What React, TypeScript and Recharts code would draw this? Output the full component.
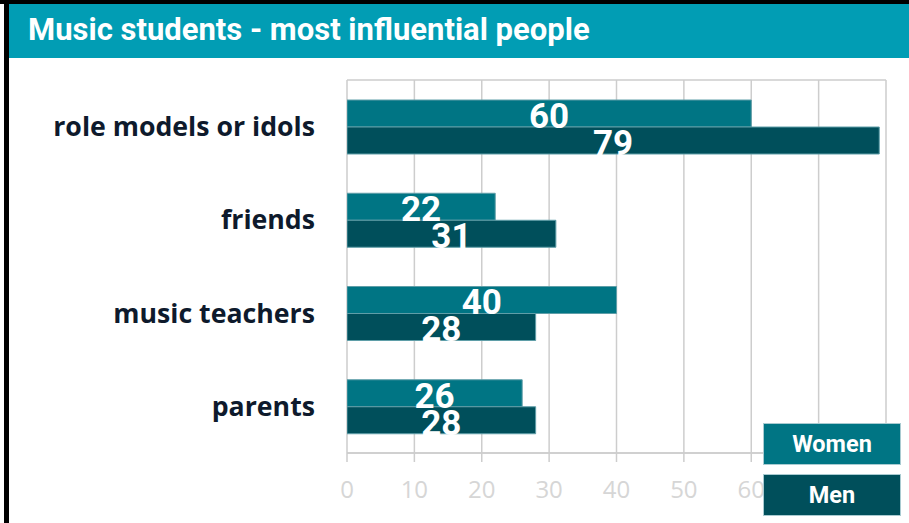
import React from 'react';
import {
  BarChart,
  Bar,
  XAxis,
  YAxis,
  CartesianGrid,
  LabelList,
  Legend,
} from 'recharts';

const categories = ['role models or idols', 'friends', 'music teachers', 'parents'];
const seriesNames = ['Women', 'Men'];
const womenValues = [60, 22, 40, 26];
const menValues = [79, 31, 28, 28];
const xTicks = [0, 10, 20, 30, 40, 50, 60, 70, 80];
const bandEdges = [0, 1, 2, 3, 4];
const titleText = 'Music students - most influential people';

const data = categories.map((c, i) => ({ category: c, Women: womenValues[i], Men: menValues[i] }));

const WOMEN_COLOR = '#007584';
const MEN_COLOR = '#004f5b';
const GRID = '#cdcdcd';

const renderLegend = (props: any) => {
  const payload = [...(props.payload || [])].sort(
    (a: any, b: any) => seriesNames.indexOf(a.value) - seriesNames.indexOf(b.value)
  );
  return (
    <div style={{ display: 'flex', flexDirection: 'column', gap: 9 }}>
      {payload.map((entry: any) => (
        <div
          key={entry.value}
          style={{
            width: 138,
            height: 42,
            boxSizing: 'border-box',
            background: entry.color,
            border: '1px solid #a9cbd1',
            color: '#ffffff',
            fontFamily: 'Roboto, sans-serif',
            fontWeight: 700,
            fontSize: 23.5,
            display: 'flex',
            alignItems: 'center',
            justifyContent: 'center',
          }}
        >
          {entry.value}
        </div>
      ))}
    </div>
  );
};

export default function App() {
  return (
    <div
      style={{
        position: 'absolute',
        left: 0,
        top: 0,
        width: 909,
        height: 523,
        background: '#ffffff',
        overflow: 'hidden',
      }}
    >
      <div style={{ position: 'absolute', left: 0, top: 0, width: 909, height: 4, background: '#000' }} />
      <div style={{ position: 'absolute', left: 4, top: 0, width: 5, height: 523, background: '#000' }} />
      <div style={{ position: 'absolute', left: 9, top: 4, width: 900, height: 54, background: '#019db4' }} />
      <div
        style={{
          position: 'absolute',
          left: 28,
          top: 14,
          fontFamily: 'Roboto, sans-serif',
          fontWeight: 700,
          fontSize: 31,
          lineHeight: '31px',
          color: '#ffffff',
          whiteSpace: 'nowrap',
        }}
      >
        {titleText}
      </div>
      <div style={{ position: 'absolute', left: 0, top: 0 }}>
        <BarChart
          width={909}
          height={523}
          data={data}
          layout="vertical"
          margin={{ top: 80, right: 23, bottom: 0, left: 0 }}
          barCategoryGap={20}
          barGap={0}
        >
          <YAxis
            yAxisId="grid"
            type="number"
            domain={[0, 4]}
            ticks={bandEdges}
            width={0}
            tick={false}
            tickSize={10}
            tickLine={{ stroke: GRID, strokeWidth: 1.5 }}
            axisLine={false}
            allowDataOverflow
          />
          <YAxis
            yAxisId={0}
            type="category"
            dataKey="category"
            width={347}
            tickSize={0}
            tickMargin={32}
            axisLine={false}
            tickLine={false}
            tick={{
              fill: '#0e1a2c',
              fontFamily: '"Open Sans", sans-serif',
              fontWeight: 700,
              fontSize: 26.7,
            }}
          />
          <XAxis
            type="number"
            domain={[0, 80]}
            ticks={xTicks}
            height={70}
            tickSize={9}
            tickMargin={19}
            axisLine={{ stroke: GRID, strokeWidth: 1.5 }}
            tickLine={{ stroke: GRID, strokeWidth: 1.5 }}
            tick={{ fill: '#d6d6d6', fontFamily: '"Open Sans", sans-serif', fontSize: 24 }}
            allowDataOverflow
          />
          <CartesianGrid yAxisId="grid" stroke={GRID} strokeWidth={1.5} />
          <Bar dataKey="Women" fill={WOMEN_COLOR} stroke="#5f9ea8" strokeWidth={1} isAnimationActive={false}>
            <LabelList
              dataKey="Women"
              position="center"
              fill="#ffffff"
              style={{ fontFamily: 'Roboto, sans-serif', fontWeight: 700, fontSize: 35 }}
              dy={2}
            />
          </Bar>
          <Bar dataKey="Men" fill={MEN_COLOR} stroke="#5f9ea8" strokeWidth={1} isAnimationActive={false}>
            <LabelList
              dataKey="Men"
              position="center"
              fill="#ffffff"
              style={{ fontFamily: 'Roboto, sans-serif', fontWeight: 700, fontSize: 35 }}
              dy={2}
            />
          </Bar>
          <Legend
            layout="horizontal"
            verticalAlign="middle"
            align="center"
            content={renderLegend}
            wrapperStyle={{ left: 763, top: 423, width: 138, height: 93 }}
          />
        </BarChart>
      </div>
    </div>
  );
}
